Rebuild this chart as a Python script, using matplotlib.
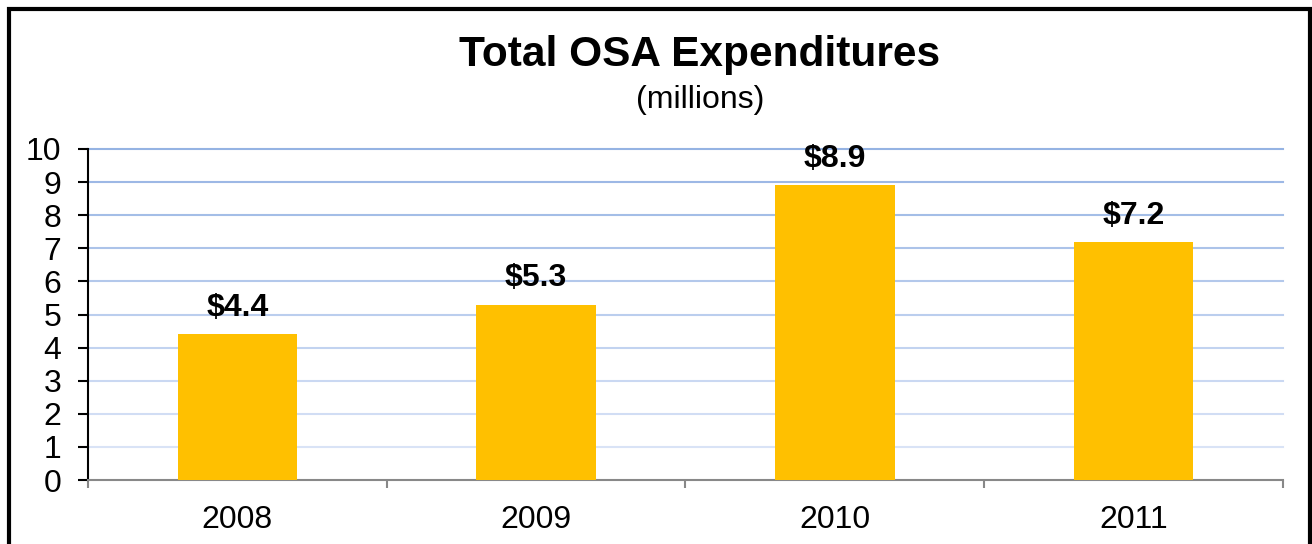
import numpy as np
import matplotlib
matplotlib.use("Agg")
from matplotlib import pyplot as plt
from matplotlib.patches import Rectangle

years = ["2008", "2009", "2010", "2011"]
spend = [4.4, 5.3, 8.9, 7.2]
labels = ["$4.4", "$5.3", "$8.9", "$7.2"]
yticks = list(range(0, 11))

plt.rcParams['font.family'] = ['Liberation Sans', 'DejaVu Sans']

fig = plt.figure(figsize=(13.12, 5.44), dpi=100)
ax = fig.add_axes([88/1312, 64/544, (1283-88)/1312, (480-149)/544])

x = np.arange(len(years))
ax.bar(x, spend, width=0.4, color="#FFC000", zorder=3)
for xi, v, lab in zip(x, spend, labels):
    ax.annotate(lab, (xi, v), xytext=(0, 8), textcoords="offset points",
                ha="center", va="bottom", fontsize=23, fontweight="bold")

# gridlines fade from blue at top to pale at bottom
top_c = np.array([0x95, 0xB3, 0xE3]) / 255
bot_c = np.array([0xE0, 0xE8, 0xF8]) / 255
for t in yticks[1:]:
    f = t / 10
    ax.axhline(t, color=bot_c + (top_c - bot_c) * f, lw=1.5, zorder=1, clip_on=False)

ax.set_xlim(-0.5, len(years) - 0.5)
ax.set_ylim(0, 10)
ax.set_yticks(yticks)
ax.tick_params(axis="y", labelsize=23, length=7, width=1.5, direction="out", pad=12)
ax.set_xticks(x)
ax.set_xticklabels(years, fontsize=23)
ax.tick_params(axis="x", length=0, pad=18)
ax.set_xticks(np.arange(-0.5, len(years)), minor=True)
ax.tick_params(axis="x", which="minor", length=6, width=1.5, color="#888888")

for s in ["top", "right"]:
    ax.spines[s].set_visible(False)
ax.spines["left"].set_linewidth(1.5)
ax.spines["bottom"].set_color("#888888")
ax.spines["bottom"].set_linewidth(1.5)

fig.text(700/1312, 1 - 55/544, "Total OSA Expenditures", ha="center", va="center",
         fontsize=30.5, fontweight="bold")
fig.text(700/1312, 1 - 100/544, "(millions)", ha="center", va="center", fontsize=23)

fig.patches.append(Rectangle((9/1312, -0.05), (1310-9)/1312, 1 - 9/544 + 0.05,
                             transform=fig.transFigure, fill=False,
                             edgecolor="black", lw=3))

fig.savefig("out.png", dpi=100)
